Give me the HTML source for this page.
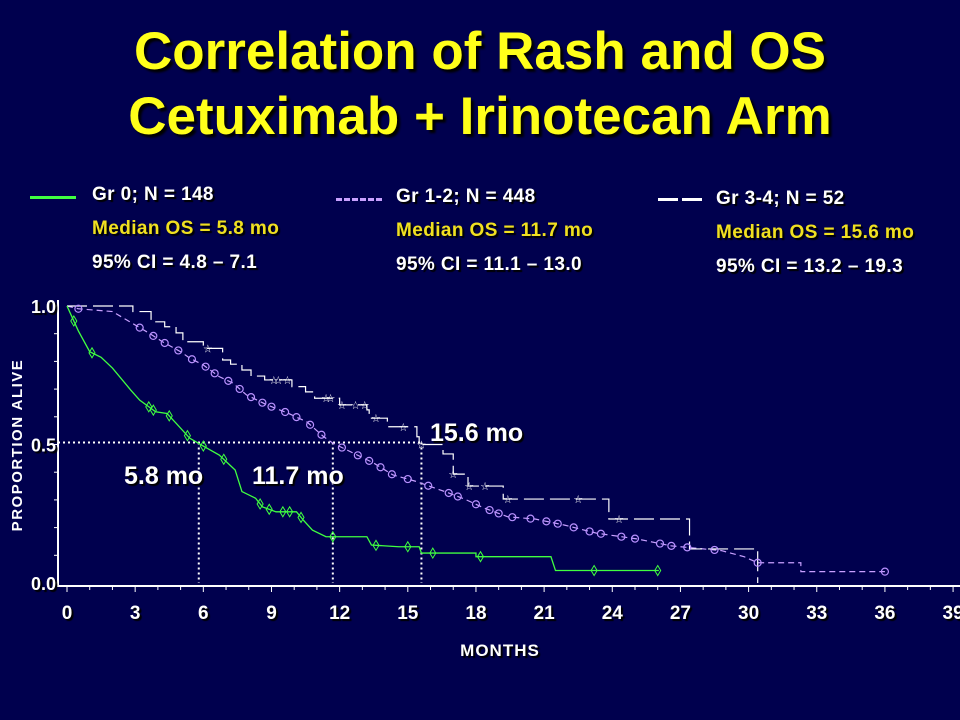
<!DOCTYPE html>
<html><head><meta charset="utf-8"><style>
body{margin:0;background:#00004e;}
#wrap{position:relative;width:960px;height:720px;overflow:hidden;background:#00004e;font-family:"Liberation Sans",sans-serif;}
.t{position:absolute;white-space:nowrap;font-weight:bold;}
.title{left:0;width:960px;text-align:center;color:#ffff1a;font-size:53px;line-height:64px;text-shadow:3px 3px 2px #000;}
.lg{font-size:19px;letter-spacing:0.4px;color:#fff;text-shadow:2px 2px 1px #000;}
.ly{color:#f0e020;}
</style></head><body>
<div id="wrap">
<div class="t title" style="top:20px">Correlation of Rash and OS</div>
<div class="t title" style="top:85px">Cetuximab + Irinotecan Arm</div>

<div>
<div style="position:absolute;left:30px;top:196px;width:46px;height:3px;background:#40ff40"></div>
<div class="t lg" style="left:92px;top:184px">Gr 0; N = 148</div>
<div class="t lg ly" style="left:92px;top:218px">Median OS = 5.8 mo</div>
<div class="t lg" style="left:92px;top:252px">95% CI = 4.8 – 7.1</div>
</div>
<div>
<div style="position:absolute;left:336px;top:198px;width:46px;border-top:3px dashed #c8a0ff"></div>
<div class="t lg" style="left:396px;top:186px">Gr 1-2; N = 448</div>
<div class="t lg ly" style="left:396px;top:220px">Median OS = 11.7 mo</div>
<div class="t lg" style="left:396px;top:254px">95% CI = 11.1 – 13.0</div>
</div>
<div>
<div style="position:absolute;left:658px;top:198px;width:20px;height:3px;background:#fff"></div>
<div style="position:absolute;left:682px;top:198px;width:20px;height:3px;background:#fff"></div>
<div class="t lg" style="left:716px;top:188px">Gr 3-4; N = 52</div>
<div class="t lg ly" style="left:716px;top:222px">Median OS = 15.6 mo</div>
<div class="t lg" style="left:716px;top:256px">95% CI = 13.2 – 19.3</div>
</div>

<svg id="chart" width="960" height="720" style="position:absolute;left:0;top:0"></svg>
</div>
<script>
const xTicks=[0,3,6,9,12,15,18,21,24,27,30,33,36,39];
const yTicks=[0.0,0.5,1.0];
const yTickLabels=["0.0","0.5","1.0"];
const gr0Times=[0,0.5,1.0,1.5,2.0,2.8,3.2,3.9,4.4,4.8,5.4,5.9,6.7,7.4,7.7,8.3,8.6,9.2,10.1,10.4,10.8,11.4,13.2,13.4,14.6,15.5,15.6,18.0,18.0,21.3,21.5,26.05];
const gr0Surv=[1.0,0.91,0.835,0.815,0.776,0.697,0.66,0.618,0.612,0.577,0.523,0.499,0.462,0.408,0.33,0.306,0.275,0.257,0.257,0.227,0.191,0.167,0.167,0.137,0.131,0.131,0.108,0.108,0.095,0.095,0.045,0.045];
const gr0Censor=[0.3,1.1,3.6,3.8,4.5,5.3,6.0,6.9,8.5,8.9,9.5,9.8,10.3,11.7,13.6,15.0,16.1,18.2,23.2,26.0];
const gr12Times=[0,0.5,2.0,3.65,4.2,5.0,5.4,6.0,6.7,7.3,7.9,8.8,9.7,10.55,11.3,11.7,12.6,13.5,14.35,15.4,15.8,16.7,17.5,18.35,19.4,20.6,21.9,23.3,25.1,26.6,28.8,29.8,30.4,32.3,32.3,36.0];
const gr12Surv=[1.0,0.99,0.98,0.90,0.871,0.835,0.812,0.787,0.745,0.722,0.679,0.643,0.614,0.582,0.528,0.505,0.469,0.433,0.39,0.366,0.354,0.328,0.303,0.271,0.239,0.231,0.209,0.18,0.159,0.134,0.117,0.095,0.073,0.073,0.041,0.041];
const gr12Censor=[0.5,3.2,3.8,4.3,4.9,5.5,6.1,6.5,7.1,7.6,8.1,8.6,9.0,9.6,10.1,10.7,11.2,12.1,12.8,13.3,13.8,14.3,15.0,15.9,16.8,17.2,18.0,18.6,19.0,19.6,20.4,21.1,21.6,22.3,23.0,23.5,24.4,25.0,26.1,26.6,27.3,28.5,30.4,36.0];
const gr34Times=[0,2.9,3.7,4.3,4.8,5.1,6.0,6.85,7.2,7.7,8.1,8.7,9.9,10.5,10.9,12.0,13.2,13.3,14.1,15.4,15.5,16.55,17.0,17.65,19.2,23.85,27.4,30.4];
const gr34Surv=[1.0,0.98,0.943,0.925,0.903,0.871,0.847,0.805,0.79,0.769,0.747,0.733,0.709,0.69,0.667,0.643,0.625,0.595,0.564,0.528,0.5,0.466,0.393,0.35,0.303,0.231,0.123,0.0];
const gr34Censor=[6.2,9.1,9.3,9.7,11.4,11.6,12.1,12.7,13.1,13.6,14.8,15.6,17.0,17.7,18.4,19.4,22.5,24.3];
const medians=[5.8,11.7,15.6];

const svg=document.getElementById('chart');
const NS='http://www.w3.org/2000/svg';
const x=m=>67+m*22.72;
const y=s=>583-s*277;
function mk(tag,at){const e=document.createElementNS(NS,tag);for(const k in at)e.setAttribute(k,at[k]);svg.appendChild(e);return e;}
function stepAt(T,S,t){let v=S[0];for(let i=0;i<T.length;i++){if(T[i]<=t)v=S[i];}return v;}
function linAt(T,S,t){for(let i=1;i<T.length;i++){if(t<=T[i]){const d=T[i]-T[i-1];return d<=0?S[i]:S[i-1]+(S[i]-S[i-1])*(t-T[i-1])/d;}}return S[S.length-1];}
function stepPath(T,S){let d='M'+x(T[0])+' '+y(S[0]);for(let i=1;i<T.length;i++){d+=' H'+x(T[i])+' V'+y(S[i]);}return d;}
function linPath(T,S){let d='M'+x(T[0])+' '+y(S[0]);for(let i=1;i<T.length;i++){d+=' L'+x(T[i])+' '+y(S[i]);}return d;}

let e=mk('line',{x1:58,y1:586,x2:960,y2:586,stroke:'#fff','stroke-width':2});

e=mk('line',{x1:58,y1:300,x2:58,y2:587,stroke:'#fff','stroke-width':2});

for(let m=0;m<=39;m++){const t=mk('line',{x1:x(m),y1:586,x2:x(m),y2:m%3===0?592:590,stroke:'#fff','stroke-width':1});
}
for(let v=0;v<=10;v++){const t=mk('line',{x1:54,y1:y(v/10),x2:58,y2:y(v/10),stroke:'#fff','stroke-width':1});
}
xTicks.forEach(m=>{const t=mk('text',{x:x(m),y:619,'text-anchor':'middle',fill:'#fff','font-size':19,'font-weight':'bold','font-family':'Liberation Sans, sans-serif',style:'text-shadow:2px 2px 1px #000'});t.textContent=m;
});
yTicks.forEach((v,i)=>{const t=mk('text',{x:56,y:y(v)+7,'text-anchor':'end',fill:'#fff','font-size':18,'font-weight':'bold','font-family':'Liberation Sans, sans-serif',style:'text-shadow:2px 2px 1px #000'});t.textContent=yTickLabels[i];
});
e=mk('text',{x:500,y:656,'text-anchor':'middle',fill:'#fff','font-size':17,'letter-spacing':1,'font-weight':'bold','font-family':'Liberation Sans, sans-serif',style:'text-shadow:2px 2px 1px #000'});e.textContent='MONTHS';

e=mk('text',{x:0,y:0,'text-anchor':'middle',fill:'#fff','font-size':15,'letter-spacing':1.5,'font-weight':'bold','font-family':'Liberation Sans, sans-serif',transform:'translate(22,445) rotate(-90)'});e.textContent='PROPORTION ALIVE';


e=mk('line',{x1:58,y1:y(0.5)-2,x2:x(medians[2]),y2:y(0.5)-2,stroke:'#fff','stroke-width':2,'stroke-dasharray':'2,3'});

medians.forEach(m=>{const l=mk('line',{x1:x(m),y1:y(0.5)-2,x2:x(m),y2:583,stroke:'#fff','stroke-width':2,'stroke-dasharray':'2,3'});
});

e=mk('path',{d:linPath(gr12Times,gr12Surv),fill:'none',stroke:'#c8a0ff','stroke-width':1.2,'stroke-dasharray':'6,4'});

e=mk('path',{d:stepPath(gr34Times,gr34Surv),fill:'none',stroke:'#fff','stroke-width':1.2,'stroke-dasharray':'20,6'});

e=mk('path',{d:linPath(gr0Times,gr0Surv),fill:'none',stroke:'#40ff40','stroke-width':1.3});


gr12Censor.forEach(t=>{const c=mk('circle',{cx:x(t),cy:y(linAt(gr12Times,gr12Surv,t)),r:3.5,fill:'none',stroke:'#b890ff','stroke-width':1.2});
});
gr0Censor.forEach(t=>{const cx=x(t),cy=y(linAt(gr0Times,gr0Surv,t));const p=mk('path',{d:`M${cx} ${cy-5} L${cx+3} ${cy} L${cx} ${cy+5} L${cx-3} ${cy} Z`,fill:'none',stroke:'#40ff40','stroke-width':1});
});
gr34Censor.forEach(t=>{const s=mk('text',{x:x(t),y:y(stepAt(gr34Times,gr34Surv,t))+4,'text-anchor':'middle',fill:'#fff','font-size':11,'font-family':'DejaVu Sans, sans-serif'});s.textContent='☆';
});

[[medians[0],124,484],[medians[1],252,484],[medians[2],430,441]].forEach(a=>{const t=mk('text',{x:a[1],y:a[2],fill:'#fff','font-size':25,'font-weight':'bold','font-family':'Liberation Sans, sans-serif',style:'text-shadow:2px 2px 1px #000'});t.textContent=a[0]+' mo';
});
</script>
</body></html>
